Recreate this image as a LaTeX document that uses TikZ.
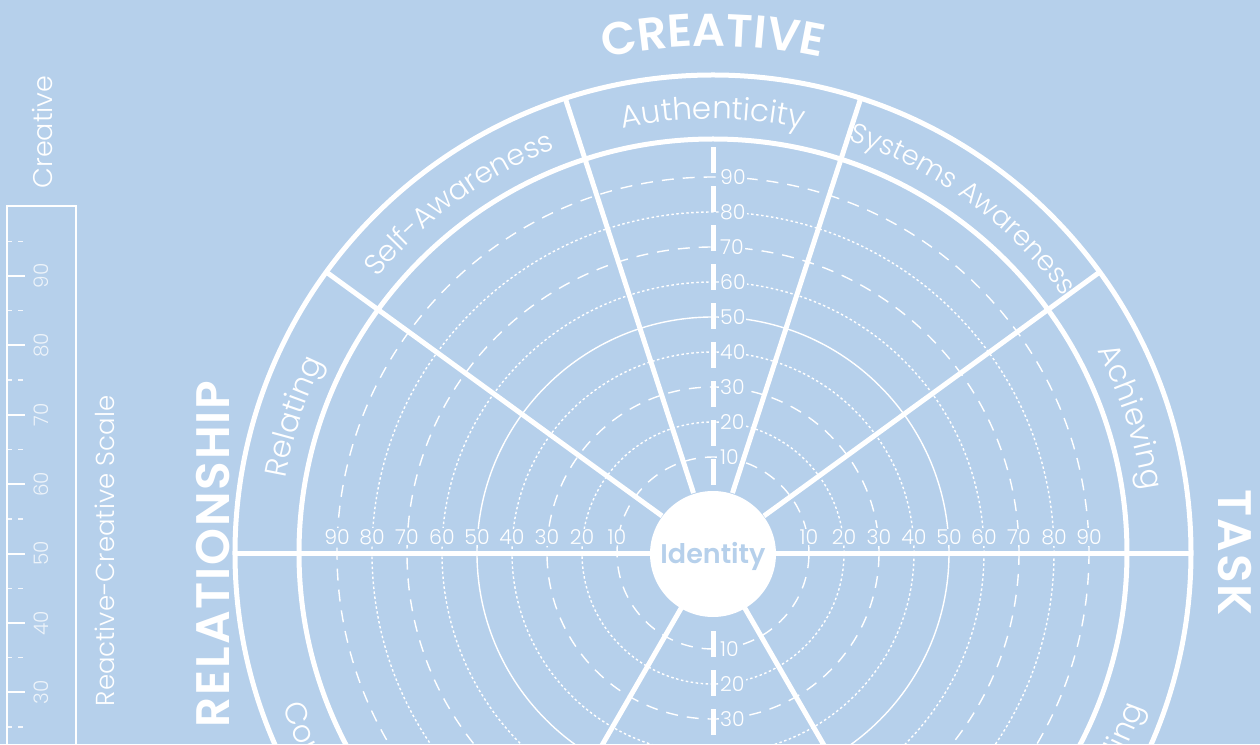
\documentclass[tikz,border=0pt]{standalone}
\usepackage{fontspec}
\usetikzlibrary{decorations.text}
\IfFontExistsTF{Poppins Light}{\newfontfamily\thinf{Poppins Light}}{\newfontfamily\thinf{Poppins}}
\IfFontExistsTF{Poppins SemiBold}{\newfontfamily\boldf{Poppins SemiBold}}{\newfontfamily\boldf{Poppins}[FakeBold=1]}
\IfFontExistsTF{Poppins SemiBold}{\newfontfamily\boldsp{Poppins SemiBold}[LetterSpace=4]}{\newfontfamily\boldsp{Poppins}[FakeBold=1,LetterSpace=4]}
\definecolor{bg}{RGB}{182,208,235}
\tikzset{
  heavy/.style={white, line width=5pt},
  cdash/.style={white, line width=1.4pt, dash pattern=on 12pt off 9pt},
  cdot/.style={white, line width=1.4pt, dash pattern=on 2.5pt off 2.5pt},
  csolid/.style={white, line width=1.4pt},
  axlab/.style={font=\thinf\fontsize{20.5}{20.5}\selectfont, text=white, fill=bg, inner sep=1pt},
  biglab/.style={font=\boldsp\fontsize{47}{47}\selectfont, text=white, anchor=base},
  scalelab/.style={font=\thinf\fontsize{20}{20}\selectfont, text=white, text opacity=0.75, rotate=90, anchor=base},
  sidelab/.style={font=\thinf\fontsize{27}{27}\selectfont, text=white, rotate=90, anchor=base},
}
\newcommand{\ringtext}[5]{% center angle, radius, sign(+1 clockwise), size, text
  \pgfmathsetmacro{\sa}{#1+40*#3}\pgfmathsetmacro{\ea}{#1-40*#3}
  \path[decorate, decoration={text along path, text align=center, text color=white,
    text={|\thinf\fontsize{#4}{#4}\selectfont|#5}}]
    (\sa:#2) arc[start angle=\sa, end angle=\ea, radius=#2];
}
\begin{document}
\begin{tikzpicture}[x=1pt,y=1pt]
\useasboundingbox (-713,-191) rectangle (547,553);
\fill[bg] (-713,-191) rectangle (547,553);
\clip (-713,-191) rectangle (547,553);
% concentric scale circles
\draw[cdash] (0,0) circle[radius=96];
\draw[cdot] (0,0) circle[radius=131];
\draw[cdash] (0,0) circle[radius=166];
\draw[cdot] (0,0) circle[radius=201];
\draw[csolid] (0,0) circle[radius=236];
\draw[cdot] (0,0) circle[radius=271];
\draw[cdash] (0,0) circle[radius=306];
\draw[cdot] (0,0) circle[radius=341];
\draw[cdash] (0,0) circle[radius=376];
% axis labels
\foreach \v in {10,20,...,90}{
  \node[axlab, anchor=west] (up\v) at (6,{61+3.5*\v}) {\v};
  \node[axlab] (rt\v) at ({61+3.5*\v},16) {\v};
  \node[axlab] (lt\v) at ({-61-3.5*\v},16) {\v};
}
\foreach \v in {10,20,30}{
  \node[axlab, anchor=west] (dn\v) at (6,{-61-3.5*\v}) {\v};
}
% rings
\draw[heavy] (0,0) circle[radius=414];
\draw[heavy] (0,0) circle[radius=478];
% spokes
\foreach \a in {36,72,108,144,240,300}{
  \draw[heavy] (\a:63) -- (\a:478);
}
\draw[heavy] (180:478) -- (0:478);
% vertical axis
\draw[white, line width=5pt, dash pattern=on 26pt off 13pt] (0,68) -- (0,406);
\draw[white, line width=5pt, dash pattern=on 26pt off 13pt] (0,-78) -- (0,-406);
% identity
\node[circle, fill=white, minimum size=126pt, inner sep=0pt] (id) at (0,-1) {};
\node[text=bg, font=\boldf\fontsize{27}{27}\selectfont, anchor=base] (idt) at (0,-10) {Identity};
% ring texts
\ringtext{90}{434}{1}{31}{Authenticity}
\ringtext{54}{434}{1}{27.5}{Systems Awareness}
\ringtext{18}{434}{1}{30.5}{Achieving}
\ringtext{126}{434}{1}{29}{Self-Awareness}
\ringtext{162}{434}{1}{30.5}{Relating}
\ringtext{210}{457}{-1}{30.5}{Complying}
\ringtext{330}{457}{-1}{30.5}{Controlling}
% big labels
\path[decorate, decoration={text along path, text align=center, text color=white,
    text={|\boldsp\fontsize{46}{46}\selectfont|CREATIVE}}]
    (130:507) arc[start angle=130, end angle=50, radius=507];
\node[biglab, rotate=90] (rel) at (-483,-1) {RELATIONSHIP};
\node[biglab, rotate=-90] (task) at (505,0) {TASK};
% left scale
\draw[white, line width=2pt] (-706,-260) rectangle (-637,347);
\foreach \v in {20,30,...,90}{
  \pgfmathsetmacro{\yy}{277-(90-\v)*6.94}
  \draw[white, line width=2pt] (-706,\yy) -- (-688,\yy);
  \node[scalelab] (s\v) at (-664,\yy) {\v};
}
\foreach \v in {25,35,...,95}{
  \pgfmathsetmacro{\yy}{277-(90-\v)*6.94}
  \draw[white, line width=1.5pt, opacity=0.85, dash pattern=on 5pt off 6pt] (-706,\yy) -- (-689,\yy);
}
\node[sidelab] (cre) at (-660,421) {Creative};
\node[sidelab, font=\thinf\fontsize{26}{26}\selectfont] (rcs) at (-598,2) {Reactive-Creative Scale};
\end{tikzpicture}
\end{document}
